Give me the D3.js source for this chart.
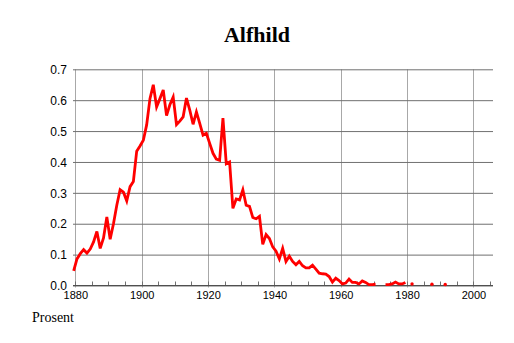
<!DOCTYPE html>
<html>
<head>
<meta charset="utf-8">
<script src="https://cdn.jsdelivr.net/npm/d3@7"></script>
<style>
  body { margin: 0; background: #fff; }
  svg { display: block; }
  .tick text { font-family: "Liberation Sans", Arial, sans-serif; font-size: 12px; fill: #000; }
  .xaxis .tick text { font-size: 11px; }
</style>
</head>
<body>
<div id="chart"></div>
<script>
// name frequency (percent) per year, null = no data that year
const firstYear = 1880;
const values = [
  0.047, 0.086, 0.103, 0.116, 0.105, 0.118, 0.141, 0.175, 0.120, 0.154,
  0.222, 0.150, 0.200, 0.260, 0.310, 0.302, 0.274, 0.320, 0.337, 0.435,
  0.452, 0.470, 0.520, 0.605, 0.650, 0.578, 0.605, 0.633, 0.550, 0.585,
  0.610, 0.521, 0.532, 0.546, 0.607, 0.568, 0.522, 0.562, 0.525, 0.487,
  0.493, 0.460, 0.428, 0.409, 0.405, 0.542, 0.394, 0.400, 0.250, 0.280,
  0.277, 0.310, 0.260, 0.256, 0.220, 0.216, 0.224, 0.133, 0.165, 0.152,
  0.125, 0.111, 0.086, 0.120, 0.078, 0.095, 0.078, 0.067, 0.078, 0.064,
  0.057, 0.057, 0.066, 0.053, 0.040, 0.038, 0.037, 0.029, 0.011, 0.024,
  0.016, 0.005, 0.008, 0.021, 0.010, 0.010, 0.005, 0.015, 0.010, 0.003,
  0.003, 0.004, null, null, 0.003, 0.003, 0.005, 0.011, 0.005, 0.005,
  0.010, null, 0.005, null, null, null, null, null, 0.004, null,
  null, null, 0.003
];
const years = values.map((v, i) => firstYear + i);
const xTicks = [1880, 1900, 1920, 1940, 1960, 1980, 2000];
const yTicks = [0.0, 0.1, 0.2, 0.3, 0.4, 0.5, 0.6, 0.7];
const title = 'Alfhild';
const yLabel = 'Prosent';

const data = years.map((y, i) => ({ year: y, value: values[i] }));

const width = 514;
const height = 343;
const plot = { left: 73, right: 493, top: 69.3, bottom: 285.5 };

const svg = d3.select('#chart')
  .append('svg')
    .attr('width', width)
    .attr('height', height);

const x = d3.scaleLinear()
  .domain([1879.3, 2005.9])
  .range([plot.left, plot.right]);

const y = d3.scaleLinear()
  .domain([0, 0.7])
  .range([plot.bottom, plot.top]);

// vertical grid lines at labelled years
svg.append('g')
  .selectAll('line')
  .data(xTicks)
  .join('line')
    .attr('x1', d => Math.round(x(d)) + 0.5)
    .attr('x2', d => Math.round(x(d)) + 0.5)
    .attr('y1', plot.top)
    .attr('y2', plot.bottom + 2)
    .attr('stroke', '#a8a8a8');

// horizontal grid + y labels
svg.append('g')
  .attr('transform', `translate(${plot.left},0)`)
  .call(d3.axisLeft(y).tickValues(yTicks).tickFormat(d3.format('.1f'))
    .tickSize(-(plot.right - plot.left)).tickPadding(6))
  .call(g => g.select('.domain').remove())
  .call(g => g.selectAll('.tick line').attr('stroke', '#707070'))
  .call(g => g.selectAll('.tick text').attr('dy', '0.35em'));

// bottom axis: labels and minor ticks every 5 years
svg.append('g')
  .attr('class', 'xaxis')
  .attr('transform', `translate(0,${plot.bottom})`)
  .call(d3.axisBottom(x).tickValues(xTicks).tickFormat(d3.format('d')).tickSize(0).tickPadding(6))
  .call(g => g.select('.domain').remove());

svg.append('g')
  .selectAll('line')
  .data(d3.range(1880, 2006, 5))
  .join('line')
    .attr('x1', d => Math.round(x(d)) + 0.5)
    .attr('x2', d => Math.round(x(d)) + 0.5)
    .attr('y1', plot.bottom)
    .attr('y2', plot.bottom - 4)
    .attr('stroke', '#707070');

svg.append('line')
  .attr('x1', plot.left)
  .attr('x2', plot.right)
  .attr('y1', plot.bottom)
  .attr('y2', plot.bottom)
  .attr('stroke', '#505050');

// the series, values sit in the middle of each year
const line = d3.line()
  .defined(d => d.value !== null)
  .x(d => x(d.year - 0.5))
  .y(d => y(d.value));

svg.append('path')
  .datum(data)
  .attr('d', line)
  .attr('fill', 'none')
  .attr('stroke', '#ff0000')
  .attr('stroke-width', 2.8)
  .attr('stroke-linejoin', 'miter');

// single years with no neighbours would vanish from the path, draw them as dots
const lonely = data.filter((d, i) => d.value !== null &&
  (i === 0 || data[i - 1].value === null) &&
  (i === data.length - 1 || data[i + 1].value === null));
svg.append('g')
  .selectAll('circle')
  .data(lonely)
  .join('circle')
    .attr('cx', d => x(d.year - 0.5))
    .attr('cy', d => y(d.value))
    .attr('r', 1.7)
    .attr('fill', '#ff0000');

svg.append('text')
  .attr('x', width / 2)
  .attr('y', 42)
  .attr('text-anchor', 'middle')
  .style('font-family', '"Liberation Serif", "Times New Roman", serif')
  .style('font-weight', 'bold')
  .style('font-size', '22px')
  .text(title);

svg.append('text')
  .attr('x', 32)
  .attr('y', 322)
  .style('font-family', '"Liberation Serif", "Times New Roman", serif')
  .style('font-size', '14px')
  .text(yLabel);
</script>
</body>
</html>
